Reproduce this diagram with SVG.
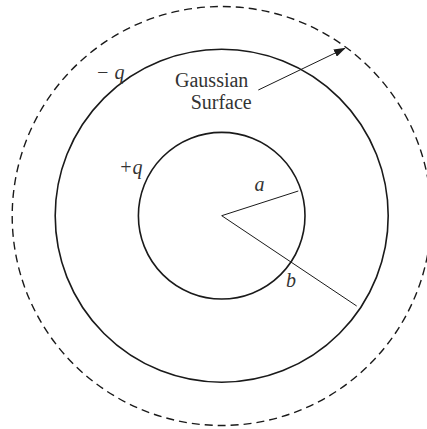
<svg xmlns="http://www.w3.org/2000/svg" width="427" height="429" viewBox="0 0 427 429">
<style>
.c{fill:none;stroke:#1a1a1a;stroke-width:1.6}
.d{fill:none;stroke:#1a1a1a;stroke-width:1.4;stroke-dasharray:8 5}
.r{stroke:#1a1a1a;stroke-width:1}
.t{font-family:'Liberation Serif','Times New Roman','DejaVu Serif',serif;font-size:20px;fill:#333}
.i{font-family:'Liberation Serif','Times New Roman','DejaVu Serif',serif;font-size:20px;font-style:italic;fill:#333}
</style>
<defs>
<marker id="ah" markerWidth="12" markerHeight="8" refX="11" refY="4" orient="auto" markerUnits="userSpaceOnUse">
<path d="M0,0 L12,4 L0,8 Z" fill="#1a1a1a"/>
</marker>
</defs>
<g id="gaussian-surface"><circle class="d" cx="221.7" cy="216" r="209.5"/></g>
<g id="outer-shell"><circle class="c" cx="221.7" cy="215.8" r="166.5"/></g>
<g id="inner-sphere"><circle class="c" cx="221.7" cy="215.7" r="83.3"/></g>
<g id="connectors">
<line class="r" x1="221.7" y1="215.7" x2="298.3" y2="191"/>
<line class="r" x1="221.7" y1="215.7" x2="356.7" y2="306"/>
<line class="r" x1="258.3" y1="90" x2="345" y2="48.3" stroke-width="1.4" marker-end="url(#ah)"/>
</g>
<g id="labels">
<text class="t" x="211.7" y="87.3" text-anchor="middle">Gaussian</text>
<text class="t" x="221.2" y="109.3" text-anchor="middle">Surface</text>
<text class="i" x="96" y="79">− q</text>
<text class="i" x="119" y="174">+q</text>
<text class="i" x="254.5" y="190.7">a</text>
<text class="i" x="286" y="287.3">b</text>
</g>
</svg>
